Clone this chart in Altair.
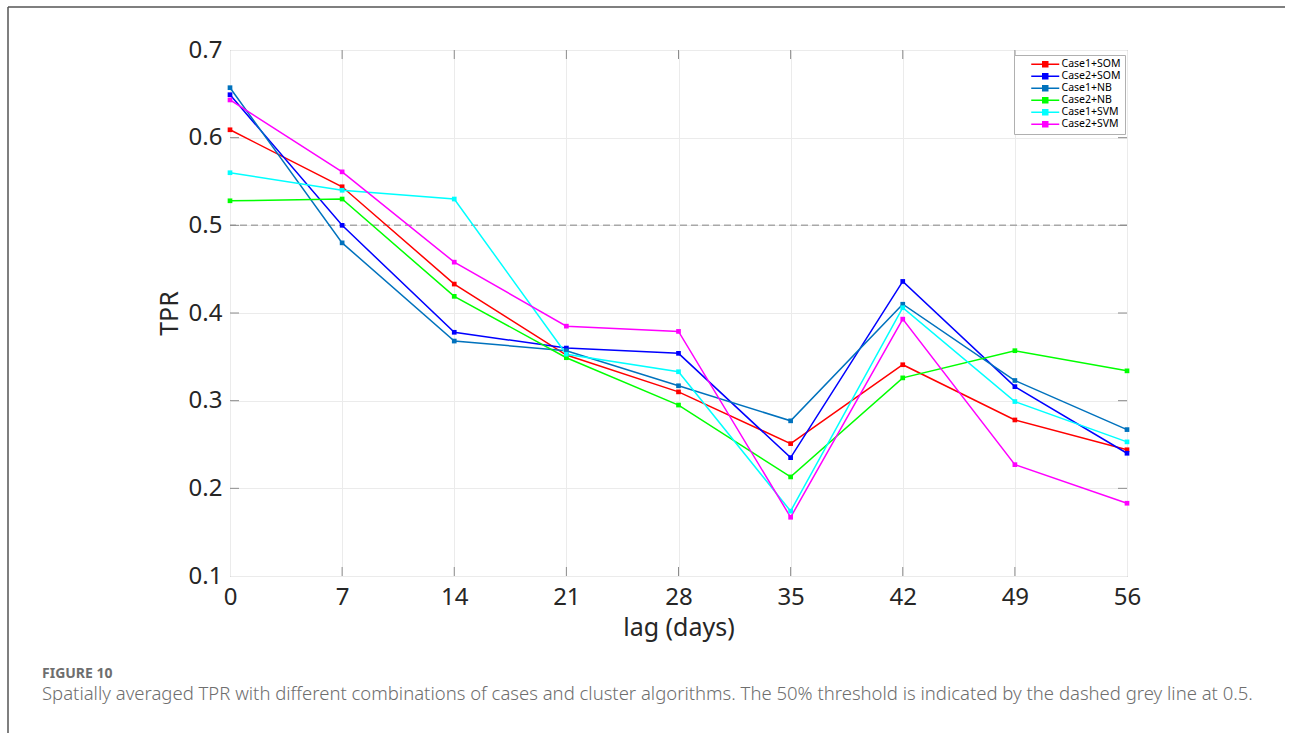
import altair as alt
import pandas as pd

lags = [0, 7, 14, 21, 28, 35, 42, 49, 56]
series_names = ["Case1+SOM", "Case2+SOM", "Case1+NB", "Case2+NB", "Case1+SVM", "Case2+SVM"]
series_colors = ["#ff0000", "#0000ff", "#0072bd", "#00ff00", "#00ffff", "#ff00ff"]

case1_som = [0.609, 0.544, 0.433, 0.352, 0.310, 0.251, 0.341, 0.278, 0.244]
case2_som = [0.649, 0.500, 0.378, 0.360, 0.354, 0.235, 0.436, 0.316, 0.240]
case1_nb = [0.657, 0.480, 0.368, 0.357, 0.317, 0.277, 0.410, 0.323, 0.267]
case2_nb = [0.528, 0.530, 0.419, 0.349, 0.295, 0.213, 0.326, 0.357, 0.334]
case1_svm = [0.560, 0.540, 0.530, 0.353, 0.333, 0.174, 0.406, 0.299, 0.253]
case2_svm = [0.643, 0.561, 0.458, 0.385, 0.379, 0.167, 0.393, 0.227, 0.183]

y_ticks = [0.1, 0.2, 0.3, 0.4, 0.5, 0.6, 0.7]
threshold = 0.5
caption_label = "FIGURE 10"
caption_text = ("Spatially averaged TPR with different combinations of cases and cluster "
                "algorithms. The 50% threshold is indicated by the dashed grey line at 0.5.")

all_series = [case1_som, case2_som, case1_nb, case2_nb, case1_svm, case2_svm]
rows = []
for i, (name, vals) in enumerate(zip(series_names, all_series)):
    for lag, v in zip(lags, vals):
        rows.append({"lag": lag, "series": name, "value": v, "order": i})
df = pd.DataFrame(rows)

W, H = 897, 526
FONT = "Noto Sans"

xscale = alt.Scale(domain=[0, 56], nice=False)
yscale = alt.Scale(domain=[0.1, 0.7], nice=False)

legend_path = ("M-1,0M2,0H9M4.875,-0.625H6.125V0.625H4.875Z"
               "M4.875,-0.2H6.125M4.875,0.2H6.125")

lines = alt.Chart(df).mark_line(
    strokeWidth=1.5,
    point=alt.OverlayMarkDef(shape="square", size=22, filled=True),
).encode(
    x=alt.X("lag:Q", scale=xscale,
            axis=alt.Axis(values=lags, title="lag (days)", grid=True, domain=False,
                          ticks=False, labelPadding=9, titlePadding=6,
                          labelFlush=False, labelOverlap=False)),
    y=alt.Y("value:Q", scale=yscale,
            axis=alt.Axis(values=y_ticks, format=".1f", title="TPR", grid=True,
                          domain=False, ticks=False, labelPadding=8, titlePadding=6,
                          labelFlush=False, labelOverlap=False)),
    color=alt.Color("series:N",
                    scale=alt.Scale(domain=series_names, range=series_colors),
                    sort=series_names,
                    legend=alt.Legend(title=None, orient="none", legendX=784, legendY=5,
                                      symbolType=legend_path, symbolSize=64,
                                      symbolStrokeWidth=1.5, labelOffset=33,
                                      labelFontSize=10.5, labelFont=FONT,
                                      labelColor="#000000", rowPadding=0,
                                      padding=4, strokeColor="#b0b0b0",
                                      fillColor="#ffffff")),
    order=alt.Order("order:Q"),
    detail="series:N",
)

thr = alt.Chart(pd.DataFrame({"y": [threshold]})).mark_rule(
    color="#a8a8a8", strokeWidth=1.5, strokeDash=[7, 4]
).encode(y=alt.Y("y:Q", scale=yscale))

ytk = pd.DataFrame({"y": y_ticks[1:-1]})
xtk = pd.DataFrame({"x": lags[1:-1]})
tick_color = "#8c8c8c"
ytick_l = alt.Chart(ytk).mark_rule(color=tick_color, strokeWidth=1).encode(
    y=alt.Y("y:Q", scale=yscale), x=alt.value(0), x2=alt.value(9))
ytick_r = alt.Chart(ytk).mark_rule(color=tick_color, strokeWidth=1).encode(
    y=alt.Y("y:Q", scale=yscale), x=alt.value(W), x2=alt.value(W - 9))
xtick_b = alt.Chart(xtk).mark_rule(color=tick_color, strokeWidth=1).encode(
    x=alt.X("x:Q", scale=xscale), y=alt.value(H), y2=alt.value(H - 9))
xtick_t = alt.Chart(xtk).mark_rule(color=tick_color, strokeWidth=1).encode(
    x=alt.X("x:Q", scale=xscale), y=alt.value(0), y2=alt.value(9))

cap1 = alt.Chart(pd.DataFrame({"t": [caption_label]})).mark_text(
    align="left", baseline="alphabetic", font=FONT, fontSize=14, fontWeight="bold",
    color="#6e6e6e"
).encode(text="t:N", x=alt.value(-188), y=alt.value(628))
cap2 = alt.Chart(pd.DataFrame({"t": [caption_text]})).mark_text(
    align="left", baseline="alphabetic", font=FONT, fontSize=18.5, fontWeight=300,
    color="#6e6e6e"
).encode(text="t:N", x=alt.value(-188), y=alt.value(650))

frame_l = alt.Chart(pd.DataFrame({"a": [0]})).mark_rule(color="#555555", strokeWidth=1.5).encode(
    x=alt.value(-222), y=alt.value(-43), y2=alt.value(690))
frame_t = alt.Chart(pd.DataFrame({"a": [0]})).mark_rule(color="#555555", strokeWidth=1.5).encode(
    y=alt.value(-43), x=alt.value(-222), x2=alt.value(1055))

chart = alt.layer(
    thr, ytick_l, ytick_r, xtick_b, xtick_t, lines, cap1, cap2, frame_l, frame_t
).properties(
    width=W, height=H,
    autosize=alt.AutoSizeParams(type="none"),
    padding={"left": 230, "top": 50, "right": 163, "bottom": 157},
    background="#ffffff",
).configure_view(
    stroke="#8c8c8c", strokeWidth=1
).configure_axis(
    gridColor="#ebebeb", gridWidth=1,
    labelFont=FONT, labelFontSize=24, labelColor="#262626",
    titleFont=FONT, titleFontSize=25, titleFontWeight="normal", titleColor="#262626",
)

chart.save("out.html", embed_options={"renderer": "svg", "actions": False})
